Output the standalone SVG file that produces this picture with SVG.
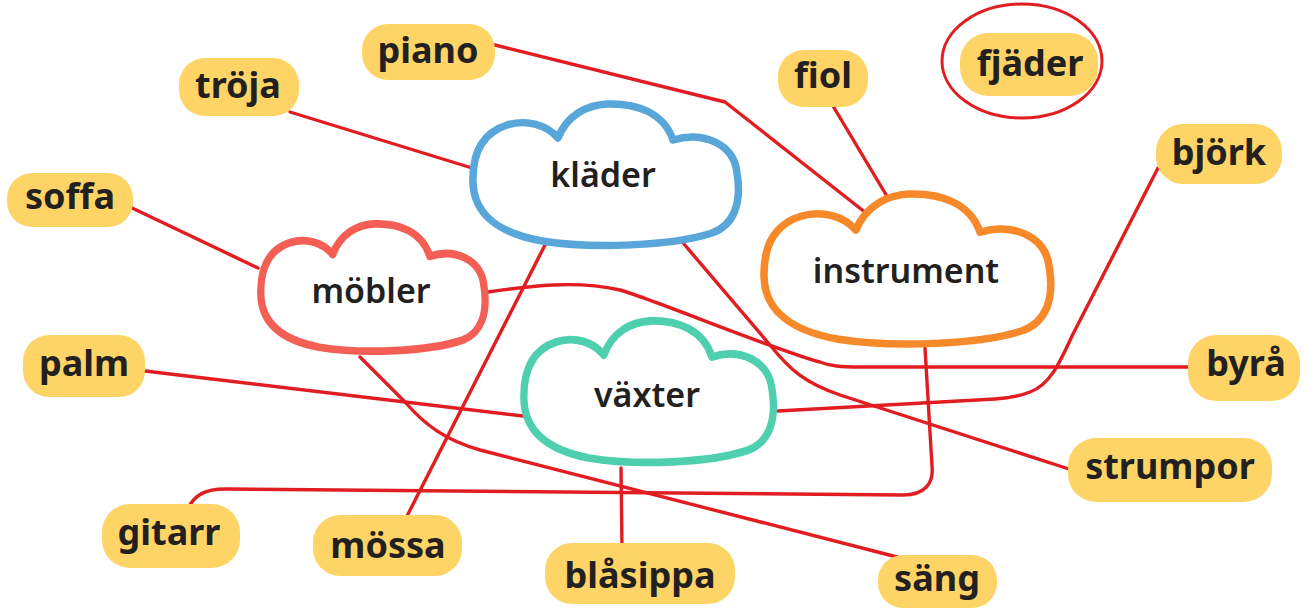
<svg xmlns="http://www.w3.org/2000/svg" width="1307" height="610" viewBox="0 0 1307 610">
<style>
.ln{fill:none;stroke:#E11D22;stroke-width:3.4;stroke-linecap:round;stroke-linejoin:round}
.blob{fill:#FED466}
.lbl{font-family:"Noto Sans","Liberation Sans",sans-serif;font-weight:700;font-size:36px;fill:#222120;text-anchor:middle}
.ct{font-family:"Noto Sans","Liberation Sans",sans-serif;font-weight:600;font-size:34px;fill:#222120;text-anchor:middle}
.cloud{fill:#fff;stroke-linejoin:round}
</style>
<defs>
<path id="cl" d="M86,35 C95,12 115,2 135,1 C165,0 192,10 201,37 C230,28 262,40 265,70 C270,100 262,122 240,130 C200,143 120,146 70,138 C25,130 2,110 1,80 C0,50 10,30 35,22 C55,16 75,22 86,35 Z"/>
</defs>
<rect width="1307" height="610" fill="#fff"/>
<g id="connectors">
<path class="ln" d="M495,45 L725,102 L866,213"/>
<path class="ln" d="M290,112 L472,168"/>
<path class="ln" d="M833,106 L888,198"/>
<path class="ln" d="M130,207 L258,268"/>
<path class="ln" d="M488,292 C530,286 575,280 620,290 C650,298 780,352 820,362 C830,366 840,367 860,367 L1188,367"/>
<path class="ln" d="M678,237 L770,345 C790,370 805,383 840,395 L1072,470"/>
<path class="ln" d="M545,245 L405,520"/>
<path class="ln" d="M360,357 L405,402 C425,425 445,440 480,450 L897,557"/>
<path class="ln" d="M145,371 L523,416"/>
<path class="ln" d="M1158,168 L1072,336 C1060,362 1050,385 1030,392 C1020,396 1010,398 995,399 L778,411"/>
<path class="ln" d="M925,348 L932,466 C934,484 924,495 903,495 L225,489 C205,489 195,495 188,508"/>
<path class="ln" d="M621,468 L622,548"/>
</g>
<g id="kläder">
<use href="#cl" class="cloud" stroke="#58A6DA" stroke-width="7.5" transform="translate(472,103)"/>
<text class="ct" x="603" y="187">kläder</text>
</g>
<g id="instrument">
<use href="#cl" class="cloud" stroke="#F68A2A" stroke-width="7" transform="translate(763,193) scale(1.08,1.06)"/>
<text class="ct" x="906" y="283">instrument</text>
</g>
<g id="möbler">
<use href="#cl" class="cloud" stroke="#F35F55" stroke-width="8.6" transform="translate(260,223) scale(0.845,0.9)"/>
<text class="ct" x="371" y="303">möbler</text>
</g>
<g id="växter">
<use href="#cl" class="cloud" stroke="#4ECFAD" stroke-width="7.8" transform="translate(523,320) scale(0.94,1.0)"/>
<text class="ct" x="647" y="407">växter</text>
</g>
<g id="piano"><rect class="blob" x="362" y="24" width="133" height="56" rx="26"/><text class="lbl" x="428" y="63">piano</text></g>
<g id="tröja"><rect class="blob" x="179" y="58" width="120" height="58" rx="26"/><text class="lbl" x="238" y="98">tröja</text></g>
<g id="soffa"><rect class="blob" x="7" y="173" width="126" height="54" rx="25"/><text class="lbl" x="70" y="209">soffa</text></g>
<g id="palm"><rect class="blob" x="23" y="335" width="122" height="62" rx="26"/><text class="lbl" x="84" y="376">palm</text></g>
<g id="gitarr"><rect class="blob" x="102" y="504" width="138" height="64" rx="28"/><text class="lbl" x="169" y="545">gitarr</text></g>
<g id="mössa"><rect class="blob" x="313" y="515" width="149" height="61" rx="27"/><text class="lbl" x="388" y="558">mössa</text></g>
<g id="blåsippa"><rect class="blob" x="545" y="543" width="190" height="61" rx="27"/><text class="lbl" x="640" y="588">blåsippa</text></g>
<g id="säng"><rect class="blob" x="878" y="555" width="119" height="53" rx="25"/><text class="lbl" x="937" y="591">säng</text></g>
<g id="strumpor"><rect class="blob" x="1068" y="438" width="204" height="64" rx="28"/><text class="lbl" x="1170" y="479">strumpor</text></g>
<g id="byrå"><rect class="blob" x="1188" y="335" width="112" height="66" rx="28"/><text class="lbl" x="1246" y="376">byrå</text></g>
<g id="björk"><rect class="blob" x="1156" y="124" width="126" height="60" rx="27"/><text class="lbl" x="1219" y="165">björk</text></g>
<g id="fiol"><rect class="blob" x="778" y="50" width="90" height="57" rx="26"/><text class="lbl" x="823" y="88">fiol</text></g>
<g id="fjäder"><rect class="blob" x="960" y="33" width="138" height="63" rx="28"/><text class="lbl" x="1030" y="76">fjäder</text><ellipse cx="1022" cy="61" rx="80" ry="57" fill="none" stroke="#E11D22" stroke-width="3"/></g>
</svg>
